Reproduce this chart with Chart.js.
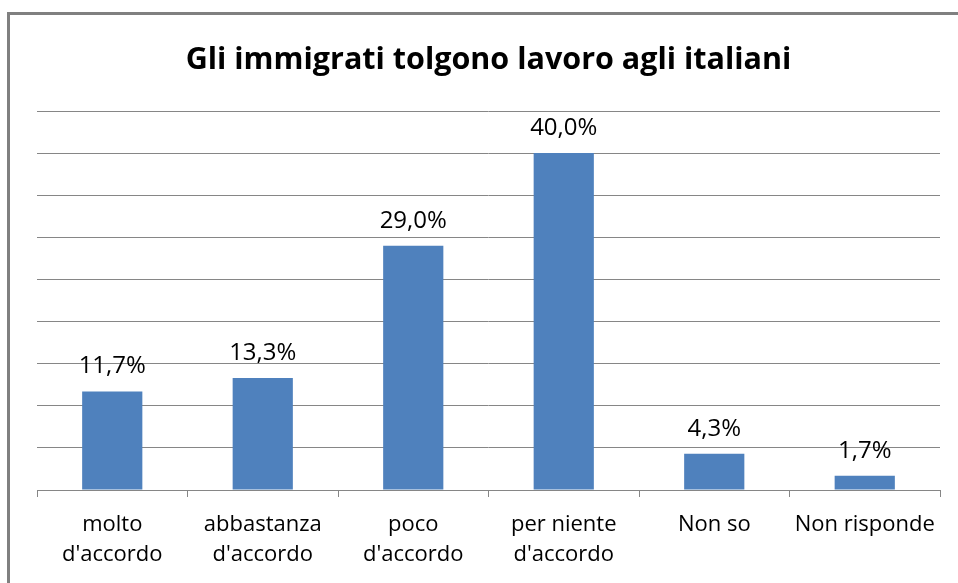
<!DOCTYPE html>
<html lang="it">
<head>
    <meta charset="UTF-8">
    <title>Gli immigrati tolgono lavoro agli italiani</title>
    <style>
        body {
            margin: 0;
            background: #fff;
        }
        #frame {
            position: absolute;
            left: 7px;
            top: 12px;
            width: 1000px;
            height: 700px;
            border: 3px solid #808080;
            box-sizing: border-box;
        }
        #wrap {
            position: absolute;
            left: 0;
            top: 0;
            width: 958px;
            height: 583px;
        }
    </style>
</head>
<body>
    <div id="frame"></div>
    <div id="wrap">
        <canvas id="chart"></canvas>
    </div>

    <script src="https://cdn.jsdelivr.net/npm/chart.js"></script>
    <script>
        const categories = [
            ['molto', "d'accordo"],
            ['abbastanza', "d'accordo"],
            ['poco', "d'accordo"],
            ['per niente', "d'accordo"],
            ['Non so'],
            ['Non risponde']
        ];
        const percentages = [11.7, 13.3, 29.0, 40.0, 4.3, 1.7];
        const yMax = 45;
        const yStep = 5;

        const FONT = '"Open Sans", "DejaVu Sans", sans-serif';
        const GRID = '#868686';

        // value labels above each bar, Italian decimal comma
        const barLabels = {
            id: 'barLabels',
            afterDatasetsDraw(chart) {
                const ctx = chart.ctx;
                const meta = chart.getDatasetMeta(0);
                ctx.save();
                ctx.font = '24px ' + FONT;
                ctx.fillStyle = '#000';
                ctx.textAlign = 'center';
                ctx.textBaseline = 'middle';
                meta.data.forEach((bar, i) => {
                    const txt = percentages[i].toFixed(1).replace('.', ',') + '%';
                    ctx.fillText(txt, bar.x, bar.y - 25);
                });
                ctx.restore();
            }
        };

        new Chart(document.getElementById('chart'), {
            type: 'bar',
            data: {
                labels: categories,
                datasets: [{
                    data: percentages,
                    backgroundColor: '#4F81BD',
                    barPercentage: 0.4,
                    categoryPercentage: 1.0
                }]
            },
            options: {
                responsive: true,
                maintainAspectRatio: false,
                animation: false,
                layout: {
                    padding: { left: 37, right: 18, top: 0, bottom: 0 }
                },
                plugins: {
                    legend: { display: false },
                    tooltip: { enabled: false },
                    title: {
                        display: true,
                        text: 'Gli immigrati tolgono lavoro agli italiani',
                        color: '#000',
                        font: { family: FONT, size: 30.5, weight: 'bold', lineHeight: 1.2 },
                        padding: { top: 42, bottom: 32.4 }
                    }
                },
                scales: {
                    x: {
                        grid: {
                            offset: true,
                            drawOnChartArea: false,
                            color: GRID,
                            tickLength: 7
                        },
                        border: { color: GRID, width: 1 },
                        ticks: {
                            color: '#000',
                            padding: 13,
                            maxRotation: 0,
                            autoSkip: false,
                            font: { family: FONT, size: 22, lineHeight: '30px' }
                        }
                    },
                    y: {
                        min: 0,
                        max: yMax,
                        ticks: { display: false, stepSize: yStep },
                        grid: { color: GRID, lineWidth: 1, drawTicks: false },
                        border: { display: false }
                    }
                }
            },
            plugins: [barLabels]
        });
    </script>
</body>
</html>
